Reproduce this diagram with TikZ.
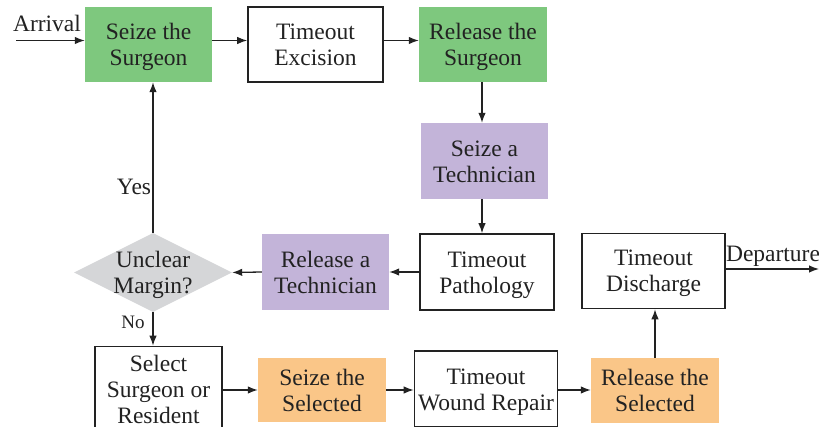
\documentclass[tikz,border=0pt]{standalone}
\usepackage{fontspec}
\setmainfont{Liberation Serif}
\usetikzlibrary{shapes.geometric,arrows.meta}
\definecolor{inkc}{HTML}{222222}
\definecolor{greenfill}{HTML}{7EC87E}
\definecolor{purplefill}{HTML}{C3B4D9}
\definecolor{orangefill}{HTML}{FAC688}
\definecolor{grayfill}{HTML}{D5D6D8}
\tikzset{
  % fixed text box height/depth so every two-line label sits at the same place
  box/.style={rectangle, inner sep=0pt, align=center, text=inkc,
    font=\fontsize{23.5}{26}\selectfont, text height=42.5pt, text depth=0pt},
  plainbox/.style={box, draw=inkc, line width=1.6pt, fill=white},
  greenbox/.style={box, fill=greenfill},
  purplebox/.style={box, fill=purplefill},
  orangebox/.style={box, fill=orangefill},
  flow/.style={draw=inkc, line width=1.3pt, -{Latex[length=10pt,width=7.5pt]}},
  tag/.style={text=inkc, inner sep=0pt, font=\fontsize{23.5}{26}\selectfont},
}
\begin{document}
\begin{tikzpicture}[x=1pt, y=-1pt]
\useasboundingbox (0,0) rectangle (819,427);
\clip (0,0) rectangle (819,427);

% top row
\node[greenbox, minimum width=127pt, minimum height=75pt] (s1) at (148.5,44.5) {Seize the\\Surgeon};
\node[plainbox, minimum width=135pt, minimum height=75pt] (ex) at (315.5,44.5) {Timeout\\Excision};
\node[greenbox, minimum width=128pt, minimum height=75pt] (rs) at (483,44.5) {Release the\\Surgeon};

% technician column
\node[purplebox, minimum width=127pt, minimum height=76pt] (st) at (484.5,161) {Seize a\\Technician};
\node[plainbox, minimum width=134pt, minimum height=76pt] (tp) at (487,272) {Timeout\\Pathology};
\node[purplebox, minimum width=127pt, minimum height=76pt] (rt) at (325.5,272) {Release a\\Technician};

% decision
\node[diamond, fill=grayfill, inner sep=0pt, minimum width=158pt, minimum height=79pt,
  label={[box, text height=41.5pt]center:Unclear\\Margin?}] (dec) at (153,272.5) {};

% bottom row
\node[plainbox, minimum width=127pt, minimum height=84pt, text height=69pt] (sel) at (158.5,388.5) {Select\\Surgeon or\\Resident};
\node[orangebox, minimum width=128pt, minimum height=64pt, text height=42pt] (ss) at (322,390) {Seize the\\Selected};
\node[plainbox, minimum width=143pt, minimum height=76pt, text height=43pt] (wr) at (486,389) {Timeout\\Wound Repair};
\node[orangebox, minimum width=128pt, minimum height=65pt, text height=42pt] (rsel) at (655,390.5) {Release the\\Selected};
\node[plainbox, minimum width=143pt, minimum height=75pt, text height=41.5pt] (dis) at (653.5,271) {Timeout\\Discharge};

% entry and exit
\coordinate (arr) at (16,40.5);
\coordinate (dep) at (819,269);
\node[tag] (arrtxt) at (47,23) {Arrival};
\node[tag] (deptxt) at (773,256) {Departure};

% connectors
\draw[flow] (arr) -- (arr -| s1.west);
\draw[flow] (s1.east |- arr) -- (ex.west |- arr);
\draw[flow] (ex.east |- arr) -- (rs.west |- arr);
\draw[flow] ([xshift=-1pt]rs.south) -- ([xshift=-1pt]rs.south |- st.north);
\draw[flow] ([xshift=-2.5pt]st.south) -- ([xshift=-2.5pt]st.south |- tp.north);
\draw[flow] (tp.west) -- (rt.east);
\draw[flow] (rt.west) -- (dec.east);
\draw[flow] (dec.north) -- (dec.north |- s1.south);
\draw[flow] (dec.south) -- (dec.south |- sel.north);
\draw[flow] (sel.east |- ss.west) -- (ss.west);
\draw[flow] (ss.east) -- (ss.east -| wr.west);
\draw[flow] (wr.east |- ss.east) -- (rsel.west |- ss.east);
\draw[flow] (rsel.north) -- (rsel.north |- dis.south);
\draw[flow] (dis.east |- dep) -- (dep);

% branch labels
\node[tag] (yes) at (134,187) {Yes};
\node[tag, font=\fontsize{19}{22}\selectfont] (no) at (133,322) {No};
\end{tikzpicture}
\end{document}
